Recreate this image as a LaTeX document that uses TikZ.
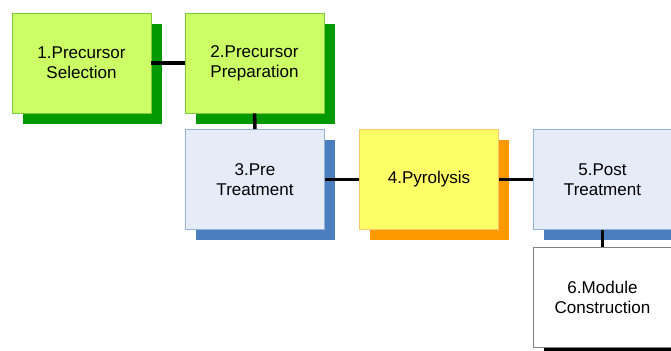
\documentclass[tikz,border=0pt]{standalone}
\usepackage{fontspec}
\setmainfont{Liberation Sans}
\usetikzlibrary{shadows}

\definecolor{limefill}{HTML}{CCFF66}
\definecolor{limeline}{HTML}{7FC93F}
\definecolor{limeshade}{HTML}{009900}
\definecolor{paleblue}{HTML}{E6ECF7}
\definecolor{paleline}{HTML}{95B3D7}
\definecolor{blueshade}{HTML}{4A7EBF}
\definecolor{yellowfill}{HTML}{FFFF66}
\definecolor{yellowline}{HTML}{F5C96B}
\definecolor{orangeshade}{HTML}{FF9900}

\begin{document}
\begin{tikzpicture}[
    stage/.style={rectangle, minimum width=2.78cm, minimum height=2cm,
      align=center, line width=0.5pt, font=\fontsize{9.7}{11.3}\selectfont},
    boxshade/.style={drop shadow={shadow xshift=0.21cm, shadow yshift=-0.21cm,
      opacity=1, fill=#1}},
    link/.style={line width=2pt}
  ]
  \useasboundingbox (0,0) rectangle (13.42,7);
  \clip (0,0) rectangle (13.42,7);

  \node [stage, boxshade=limeshade, fill=limefill, draw=limeline] (sel) at (1.63,5.74) {1.Precursor\\Selection};
  \node [stage, boxshade=limeshade, fill=limefill, draw=limeline] (prep) at (5.09,5.74) {2.Precursor\\Preparation};
  \node [stage, boxshade=blueshade, fill=paleblue, draw=paleline] (pre) at (5.10,3.41) {3.Pre\\Treatment};
  \node [stage, boxshade=orangeshade, fill=yellowfill, draw=yellowline] (pyro) at (8.58,3.41) {4.Pyrolysis};
  \node [stage, boxshade=blueshade, fill=paleblue, draw=paleline] (post) at (12.05,3.41) {5.Post\\Treatment};
  \node [stage, boxshade=black, fill=white, draw=gray] (mod) at (12.05,1.06) {6.Module\\Construction};

  \draw [link] (sel) -- (prep);
  \draw [link] (prep) -- (pre);
  \draw [link] (pre) -- (pyro);
  \draw [link] (pyro) -- (post);
  \draw [link] (post) -- (mod);
\end{tikzpicture}
\end{document}
